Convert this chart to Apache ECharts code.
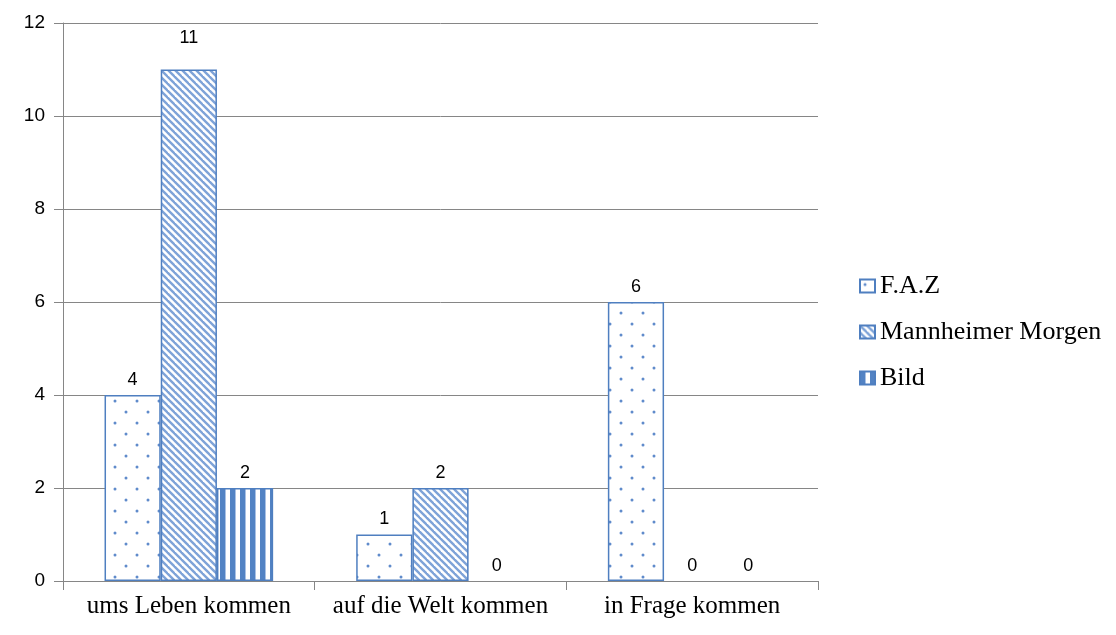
<!DOCTYPE html>
<html>
<head>
<meta charset="utf-8">
<style>html,body{margin:0;padding:0;background:#fff;}#chart{width:1116px;height:635px;}</style>
<script src="https://cdn.jsdelivr.net/npm/echarts@6/dist/echarts.min.js"></script>
</head>
<body>
<div id="chart"></div>
<script>
const categories = ['ums Leben kommen', 'auf die Welt kommen', 'in Frage kommen'];
const seriesNames = ['F.A.Z', 'Mannheimer Morgen', 'Bild'];
const faz = [4, 1, 6];
const mannheimer = [11, 2, 0];
const bild = [2, 0, 0];
const yTicks = [0, 2, 4, 6, 8, 10, 12];

const BLUE = '#4f7fc0';

function dotPattern() {
  const c = document.createElement('canvas');
  c.width = 22; c.height = 22;
  const g = c.getContext('2d');
  g.fillStyle = '#fff'; g.fillRect(0, 0, 22, 22);
  g.fillStyle = '#5f8bcb';
  g.beginPath(); g.arc(5, 5, 1.5, 0, Math.PI * 2); g.fill();
  g.beginPath(); g.arc(16, 16, 1.5, 0, Math.PI * 2); g.fill();
  return c;
}
function diagPattern() {
  const s = 7;
  const c = document.createElement('canvas');
  c.width = s; c.height = s;
  const g = c.getContext('2d');
  g.fillStyle = '#fff'; g.fillRect(0, 0, s, s);
  g.strokeStyle = '#7ea3d8';
  g.lineWidth = 2.4;
  for (let k = -1; k <= 1; k++) {
    g.beginPath();
    g.moveTo(k * s - 1, -1);
    g.lineTo(k * s + s + 1, s + 1);
    g.stroke();
  }
  return c;
}
function vertPattern() {
  const c = document.createElement('canvas');
  c.width = 10; c.height = 10;
  const g = c.getContext('2d');
  g.fillStyle = '#fff'; g.fillRect(0, 0, 10, 10);
  g.fillStyle = '#5383c4'; g.fillRect(0, 0, 5, 10);
  g.fillStyle = '#a9c1e4'; g.fillRect(5, 0, 1, 10);
  return c;
}

const patterns = [
  { image: dotPattern(), repeat: 'repeat' },
  { image: diagPattern(), repeat: 'repeat' },
  { image: vertPattern(), repeat: 'repeat' }
];
const dataSets = [faz, mannheimer, bild];

function buildData(values) {
  return values.map(v => {
    const item = { value: v };
    if (v === 0) item.itemStyle = { borderWidth: 0 };
    if (v >= 11) item.label = { distance: 22 };
    return item;
  });
}

const chart = echarts.init(document.getElementById('chart'));
chart.setOption({
  animation: false,
  backgroundColor: '#fff',
  grid: { left: 63, right: 298, top: 23, bottom: 54, containLabel: false },
  legend: {
    orient: 'vertical',
    left: 854,
    top: 268,
    icon: 'rect',
    itemWidth: 15,
    itemHeight: 13,
    itemGap: 20,
    textStyle: { fontFamily: 'Liberation Serif', fontSize: 26, color: '#000', padding: [0, 0, 0, 0] },
    data: seriesNames
  },
  xAxis: {
    type: 'category',
    data: categories,
    axisLine: { lineStyle: { color: '#868686', width: 1 } },
    axisTick: { show: true, length: 9, lineStyle: { color: '#868686' }, alignWithLabel: false, interval: 0 },
    axisLabel: { interval: 0, hideOverlap: false, margin: 13, fontFamily: 'Liberation Serif', fontSize: 25, color: '#000' },
    splitLine: { show: false }
  },
  yAxis: {
    type: 'value',
    min: 0, max: 12, interval: 2,
    axisLine: { show: true, lineStyle: { color: '#868686', width: 1 } },
    axisTick: { show: true, length: 9, lineStyle: { color: '#868686' } },
    axisLabel: {
      margin: 18, fontFamily: 'Liberation Sans', fontSize: 19, color: '#000',
      formatter: v => yTicks.includes(v) ? String(v) : ''
    },
    splitLine: { show: true, lineStyle: { color: '#868686', width: 1 } }
  },
  series: seriesNames.map((name, i) => ({
    name: name,
    type: 'bar',
    data: buildData(dataSets[i]),
    barGap: '0%',
    barCategoryGap: '33%',
    itemStyle: { color: patterns[i], borderColor: BLUE, borderWidth: 1.5 },
    label: {
      show: true, position: 'top', distance: 6,
      fontFamily: 'Liberation Sans', fontSize: 18, color: '#000'
    }
  }))
});
</script>
</body>
</html>
